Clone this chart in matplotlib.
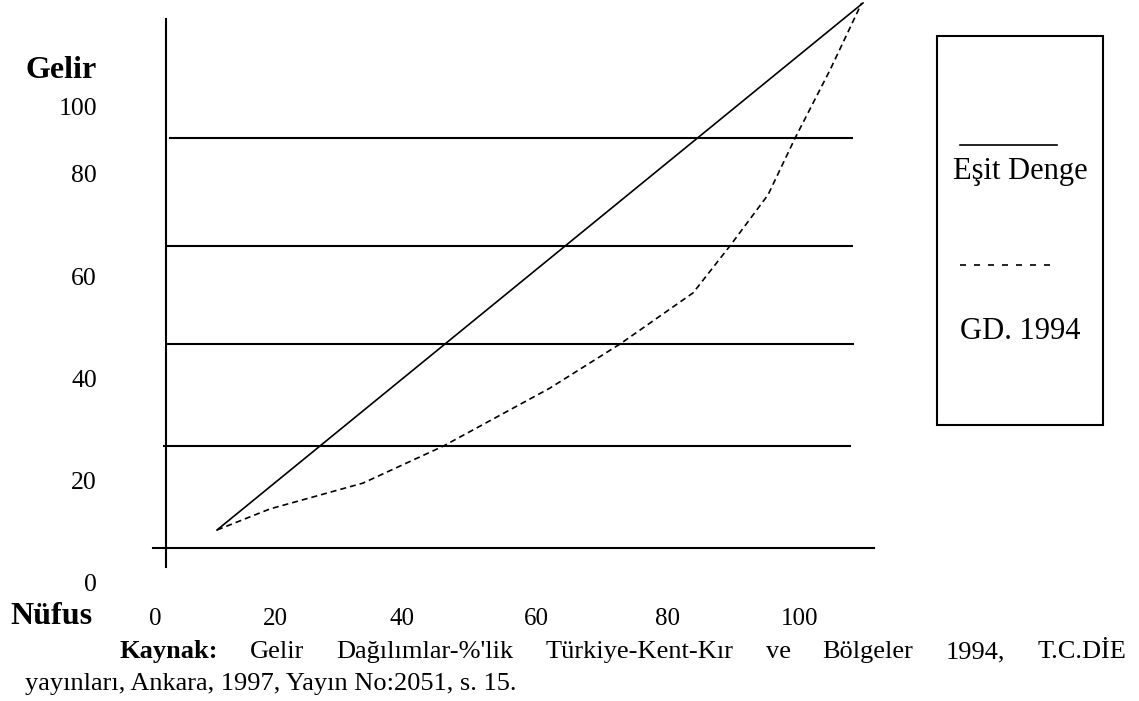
import numpy as np
import matplotlib.pyplot as plt

plt.rcParams['font.family'] = ['Liberation Serif', 'DejaVu Serif']

# Nufus / Gelir (cumulative %)
equal_x = [0, 100]
equal_y = [0, 100]
gd1994_x = [0, 8.2, 22.6, 35.0, 51.5, 62.4, 73.7, 79.4, 85.3, 89.5, 94.9, 99.8]
gd1994_y = [0, 4.0, 8.9, 15.9, 26.9, 35.3, 45.0, 53.9, 63.6, 74.4, 87.3, 100]

grid_y = [74.4, 53.9, 35.3, 15.9]
grid_x0 = [-7.4, -7.7, -8.0, -8.4]
grid_x1 = [98.5, 98.5, 98.6, 98.1]

x_labels = ['0', '20', '40', '60', '80', '100']
x_label_pos = [-9.6, 9.0, 28.6, 49.5, 69.7, 90.2]
y_labels = ['0', '20', '40', '60', '80', '100']
y_label_pos = [-10.4, 8.9, 28.3, 47.6, 67.2, 79.9]

caption_words = ['Kaynak:', 'Gelir', 'Dağılımlar-%\'lik', 'Türkiye-Kent-Kır',
                 've', 'Bölgeler', '1994,', 'T.C.DİE']
caption2 = 'yayınları, Ankara, 1997, Yayın No:2051, s. 15.'

W, H = 1139, 701
fig = plt.figure(figsize=(W / 100, H / 100), dpi=100)
ax = fig.add_axes([0, 0, 1, 1])
ax.set_xlim(-217 / 6.46, (W - 217) / 6.46)
ax.set_ylim((530 - H) / 5.27, 530 / 5.27)
ax.axis('off')

lw_grid = 1.5
for y, a, b in zip(grid_y, grid_x0, grid_x1):
    ax.plot([a, b], [y, y], color='black', lw=lw_grid, solid_capstyle='butt')
# axes of the drawing
ax.plot([-9.9, 101.7], [-3.4, -3.4], color='black', lw=lw_grid)
ax.plot([-7.9, -7.9], [-7.0, 97.0], color='black', lw=lw_grid)

ax.plot(equal_x, equal_y, color='black', lw=1.2)
ax.plot(gd1994_x, gd1994_y, color='black', lw=1.2, dashes=(3.6, 2.4))

for lab, p in zip(x_labels, x_label_pos):
    ax.text(p, (530 - 619) / 5.27, lab, ha='center', va='center',
            fontsize=18)
for lab, p in zip(y_labels, y_label_pos):
    ax.text((97 - 217) / 6.46, p, lab, ha='right', va='center',
            fontsize=18.5)


def px(x, y):
    return x / W, 1 - y / H


fig.text(*px(97, 70), 'Gelir', ha='right', va='center', fontsize=23,
         fontweight='bold')
fig.text(*px(10, 617), 'Nüfus', ha='left', va='center', fontsize=23,
         fontweight='bold')

# legend box
fig.patches.append(plt.Rectangle(px(937, 425), 166 / W, 389 / H,
                                 transform=fig.transFigure, fill=False,
                                 edgecolor='black', lw=1.5))
fig.add_artist(plt.Line2D([960 / W, 1057 / W], [1 - 145 / H] * 2,
                          color='black', lw=1.2, transform=fig.transFigure))
fig.add_artist(plt.Line2D([960 / W, 1052 / W], [1 - 265 / H] * 2,
                          color='black', lw=1.2, dashes=(3.6, 4.8),
                          transform=fig.transFigure))
fig.text(*px(1020, 171), 'Eşit Denge', ha='center', va='center', fontsize=22)
fig.text(*px(1020, 331), 'GD. 1994', ha='center', va='center', fontsize=22)

# source note, justified between two edges
cap_fs = 19
left, right = 119, 1126
renderer = fig.canvas.get_renderer()
texts = []
for i, w in enumerate(caption_words):
    t = fig.text(0, 1 - 658 / H, w, ha='left', va='baseline', fontsize=cap_fs,
                 fontweight='bold' if i == 0 else 'normal')
    texts.append(t)
widths = [t.get_window_extent(renderer).width for t in texts]
gap = (right - left - sum(widths)) / (len(texts) - 1)
x = left
for t, wd in zip(texts, widths):
    t.set_x(x / W)
    x += wd + gap
fig.text(*px(25, 690), caption2, ha='left', va='baseline', fontsize=cap_fs)

fig.savefig('out.png', dpi=100)
